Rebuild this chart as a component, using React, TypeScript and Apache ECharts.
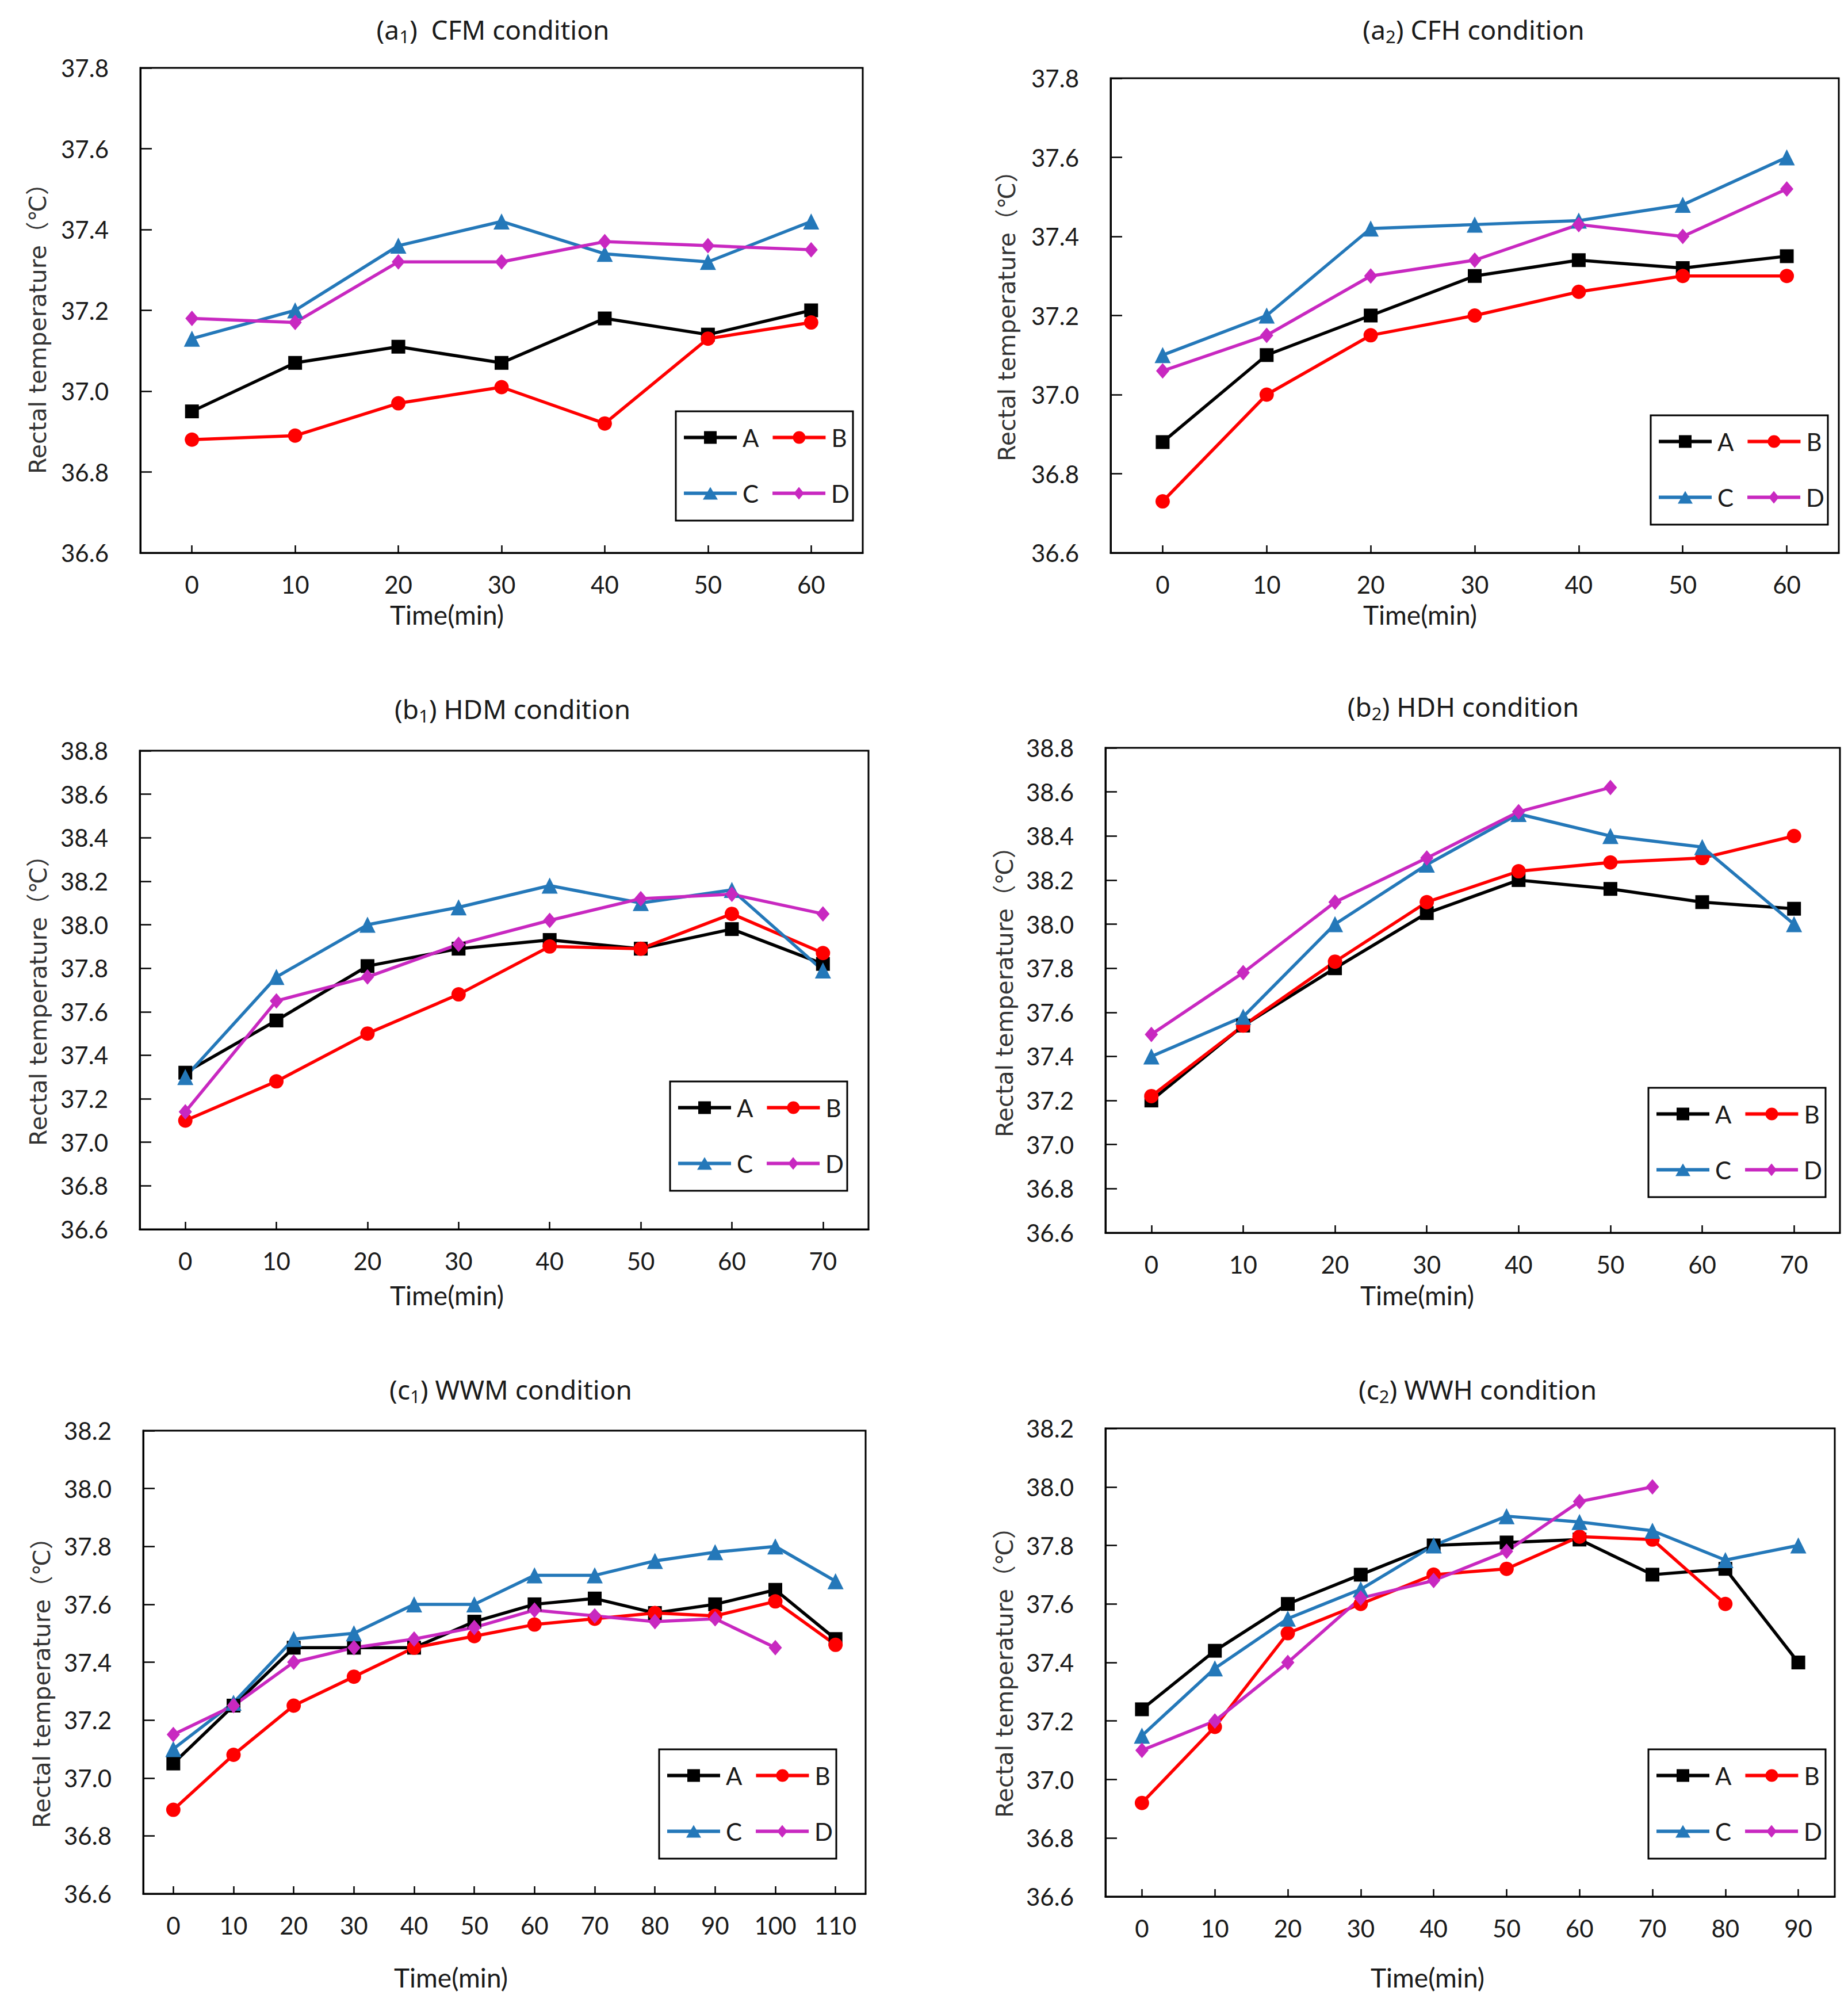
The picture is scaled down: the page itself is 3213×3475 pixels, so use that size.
import React, { useEffect, useRef } from 'react';
import * as echarts from 'echarts';

// ---------- categories (Time, min) ----------
const T60 = ['0', '10', '20', '30', '40', '50', '60'];
const T70 = ['0', '10', '20', '30', '40', '50', '60', '70'];
const T90 = ['0', '10', '20', '30', '40', '50', '60', '70', '80', '90'];
const T110 = ['0', '10', '20', '30', '40', '50', '60', '70', '80', '90', '100', '110'];

// ---------- (a1) CFM ----------
const A1_A = [36.95, 37.07, 37.11, 37.07, 37.18, 37.14, 37.2];
const A1_B = [36.88, 36.89, 36.97, 37.01, 36.92, 37.13, 37.17];
const A1_C = [37.13, 37.2, 37.36, 37.42, 37.34, 37.32, 37.42];
const A1_D = [37.18, 37.17, 37.32, 37.32, 37.37, 37.36, 37.35];

// ---------- (a2) CFH ----------
const A2_A = [36.88, 37.1, 37.2, 37.3, 37.34, 37.32, 37.35];
const A2_B = [36.73, 37.0, 37.15, 37.2, 37.26, 37.3, 37.3];
const A2_C = [37.1, 37.2, 37.42, 37.43, 37.44, 37.48, 37.6];
const A2_D = [37.06, 37.15, 37.3, 37.34, 37.43, 37.4, 37.52];

// ---------- (b1) HDM ----------
const B1_A = [37.32, 37.56, 37.81, 37.89, 37.93, 37.89, 37.98, 37.82];
const B1_B = [37.1, 37.28, 37.5, 37.68, 37.9, 37.89, 38.05, 37.87];
const B1_C = [37.3, 37.76, 38.0, 38.08, 38.18, 38.1, 38.16, 37.79];
const B1_D = [37.14, 37.65, 37.76, 37.91, 38.02, 38.12, 38.14, 38.05];

// ---------- (b2) HDH ----------
const B2_A = [37.2, 37.54, 37.8, 38.05, 38.2, 38.16, 38.1, 38.07];
const B2_B = [37.22, 37.54, 37.83, 38.1, 38.24, 38.28, 38.3, 38.4];
const B2_C = [37.4, 37.58, 38.0, 38.27, 38.5, 38.4, 38.35, 38.0];
const B2_D = [37.5, 37.78, 38.1, 38.3, 38.51, 38.62, null, null];

// ---------- (c1) WWM ----------
const C1_A = [37.05, 37.25, 37.45, 37.45, 37.45, 37.54, 37.6, 37.62, 37.57, 37.6, 37.65, 37.48];
const C1_B = [36.89, 37.08, 37.25, 37.35, 37.45, 37.49, 37.53, 37.55, 37.57, 37.56, 37.61, 37.46];
const C1_C = [37.1, 37.26, 37.48, 37.5, 37.6, 37.6, 37.7, 37.7, 37.75, 37.78, 37.8, 37.68];
const C1_D = [37.15, 37.25, 37.4, 37.45, 37.48, 37.52, 37.58, 37.56, 37.54, 37.55, 37.45, null];

// ---------- (c2) WWH ----------
const C2_A = [37.24, 37.44, 37.6, 37.7, 37.8, 37.81, 37.82, 37.7, 37.72, 37.4];
const C2_B = [36.92, 37.18, 37.5, 37.6, 37.7, 37.72, 37.83, 37.82, 37.6, null];
const C2_C = [37.15, 37.38, 37.55, 37.65, 37.8, 37.9, 37.88, 37.85, 37.75, 37.8];
const C2_D = [37.1, 37.2, 37.4, 37.62, 37.68, 37.78, 37.95, 38.0, null, null];

// ---------- axis ranges & labels ----------
const Y_MIN = 36.6;
const Y_MAXES = [37.8, 37.8, 38.8, 38.8, 38.2, 38.2];
const Y_STEP = 0.2;
const SERIES_NAMES = ['A', 'B', 'C', 'D'];
const TITLE_LETTERS = ['a', 'a', 'b', 'b', 'c', 'c'];
const TITLE_SUBS = ['1', '2', '1', '2', '1', '2'];
const TITLE_TEXTS = ['  CFM condition', ' CFH condition', ' HDM condition', ' HDH condition', ' WWM condition', ' WWH condition'];
const Y_NAME = 'Rectal temperature（℃）';
const X_NAME = 'Time(min)';

const PANEL_CATS = [T60, T60, T70, T70, T110, T90];
const PANEL_DATA = [
  [A1_A, A1_B, A1_C, A1_D],
  [A2_A, A2_B, A2_C, A2_D],
  [B1_A, B1_B, B1_C, B1_D],
  [B2_A, B2_B, B2_C, B2_D],
  [C1_A, C1_B, C1_C, C1_D],
  [C2_A, C2_B, C2_C, C2_D],
];

// ---------- styles / layout ----------
const COLORS = ['#000000', '#FF0000', '#2478B9', '#C828C0'];
const SYMBOLS = ['rect', 'circle', 'triangle', 'diamond'];
const SYMBOL_SIZES: any[] = [24, 25, 28, [23, 27]];
// legend icons: thick line + marker, drawn in a 92 x 22 box
const LEGEND_ICONS = [
  'path://M0 8H92V14H0Z M35 0H57V22H35Z',
  'path://M0 8H92V14H0Z M35 11A11 11 0 1 1 57 11A11 11 0 1 1 35 11Z',
  'path://M0 8H92V14H0Z M46 0L59 22L33 22Z',
  'path://M0 8H92V14H0Z M46 0L55 11L46 22L37 11Z',
];

const LAYOUT = [
  { grid: { left: 244, top: 118, width: 1256, height: 843 }, legend: [1175, 715], title: [857, 51], yName: [66, 561], xName: [777, 1068] },
  { grid: { left: 1931, top: 136, width: 1266, height: 825 }, legend: [2870, 722], title: [2562, 51], yName: [1751, 539], xName: [2469, 1068] },
  { grid: { left: 243, top: 1305, width: 1267, height: 832 }, legend: [1165, 1880], title: [891, 1232], yName: [67, 1729], xName: [777, 2251] },
  { grid: { left: 1922, top: 1300, width: 1277, height: 843 }, legend: [2866, 1891], title: [2544, 1228], yName: [1747, 1714], xName: [2464, 2251] },
  { grid: { left: 249, top: 2487, width: 1256, height: 805 }, legend: [1146, 3041], title: [888, 2415], yName: [73, 2915], xName: [784, 3437] },
  { grid: { left: 1922, top: 2483, width: 1268, height: 814 }, legend: [2866, 3041], title: [2569, 2415], yName: [1747, 2897], xName: [2482, 3437] },
];

const TICK_FONT = 'Lato, Carlito, "Liberation Sans", sans-serif';
const TEXT_COLOR = '#1a1a1a';

function buildOption() {
  const grid: any[] = [];
  const xAxis: any[] = [];
  const yAxis: any[] = [];
  const legend: any[] = [];
  const series: any[] = [];
  const graphic: any[] = [];

  LAYOUT.forEach((L, i) => {
    grid.push({
      ...L.grid,
      show: true,
      borderColor: '#000',
      borderWidth: 3,
      backgroundColor: 'transparent',
      containLabel: false,
    });
    xAxis.push({
      type: 'category',
      gridIndex: i,
      data: PANEL_CATS[i],
      boundaryGap: true,
      axisLine: { show: true, lineStyle: { color: '#000', width: 3 } },
      axisTick: { show: true, alignWithLabel: true, inside: true, length: 13, lineStyle: { color: '#000', width: 2.5 } },
      axisLabel: { interval: 0, margin: 34, fontSize: 42, fontFamily: TICK_FONT, color: TEXT_COLOR },
      splitLine: { show: false },
    });
    yAxis.push({
      type: 'value',
      gridIndex: i,
      min: Y_MIN,
      max: Y_MAXES[i],
      interval: Y_STEP,
      axisLine: { show: true, lineStyle: { color: '#000', width: 3 } },
      axisTick: { show: true, inside: true, length: 20, lineStyle: { color: '#000', width: 2.5 } },
      axisLabel: {
        margin: 55,
        fontSize: 42,
        fontFamily: TICK_FONT,
        color: TEXT_COLOR,
        formatter: (v: number) => v.toFixed(1),
      },
      splitLine: { show: false },
    });
    legend.push({
      left: L.legend[0],
      top: L.legend[1],
      width: 296,
      orient: 'horizontal',
      selectedMode: false,
      data: SERIES_NAMES.map((n, k) => ({ name: n, icon: LEGEND_ICONS[k] })),
      itemWidth: 92,
      itemHeight: 22,
      itemGap: 24,
      padding: [9, 6, 11, 14],
      borderColor: '#000',
      borderWidth: 3,
      backgroundColor: '#fff',
      itemStyle: { borderWidth: 0 },
      textStyle: { fontSize: 42, fontFamily: TICK_FONT, color: TEXT_COLOR, lineHeight: 73, padding: [0, 0, 0, 5] },
    });
    PANEL_DATA[i].forEach((arr, k) => {
      series.push({
        type: 'line',
        name: SERIES_NAMES[k],
        xAxisIndex: i,
        yAxisIndex: i,
        data: arr,
        symbol: SYMBOLS[k],
        symbolSize: SYMBOL_SIZES[k],
        showAllSymbol: true,
        lineStyle: { color: COLORS[k], width: 5.5 },
        itemStyle: { color: COLORS[k] },
        emphasis: { disabled: true },
      });
    });
    graphic.push({
      type: 'text',
      x: L.title[0],
      y: L.title[1],
      z: 100,
      style: {
        text: '(' + TITLE_LETTERS[i] + '{s|' + TITLE_SUBS[i] + '})' + TITLE_TEXTS[i],
        rich: { s: { fontSize: 31, lineHeight: 31, verticalAlign: 'bottom', fontFamily: '"Noto Sans", sans-serif', fill: TEXT_COLOR } },
        fontSize: 46,
        lineHeight: 54,
        fontFamily: '"Noto Sans", sans-serif',
        fill: TEXT_COLOR,
        textAlign: 'center',
        textVerticalAlign: 'middle',
      },
    });
    graphic.push({
      type: 'text',
      x: L.yName[0],
      y: L.yName[1],
      rotation: Math.PI / 2,
      z: 100,
      style: {
        text: Y_NAME,
        fontSize: 41,
        fontFamily: '"DejaVu Sans", "Noto Sans CJK SC", sans-serif',
        fill: '#333',
        textAlign: 'center',
        textVerticalAlign: 'middle',
      },
    });
    graphic.push({
      type: 'text',
      x: L.xName[0],
      y: L.xName[1],
      z: 100,
      style: {
        text: X_NAME,
        fontSize: 46,
        fontFamily: TICK_FONT,
        fill: TEXT_COLOR,
        textAlign: 'center',
        textVerticalAlign: 'middle',
      },
    });
  });

  return {
    animation: false,
    backgroundColor: '#ffffff',
    grid,
    xAxis,
    yAxis,
    legend,
    series,
    graphic,
  };
}

export default function App() {
  const ref = useRef<HTMLDivElement>(null);
  useEffect(() => {
    document.body.style.margin = '0';
    if (!ref.current) return;
    const chart = echarts.init(ref.current, undefined, { renderer: 'svg' });
    chart.setOption(buildOption() as any);
    return () => chart.dispose();
  }, []);
  return <div ref={ref} style={{ width: 3213, height: 3475, background: '#fff' }} />;
}
